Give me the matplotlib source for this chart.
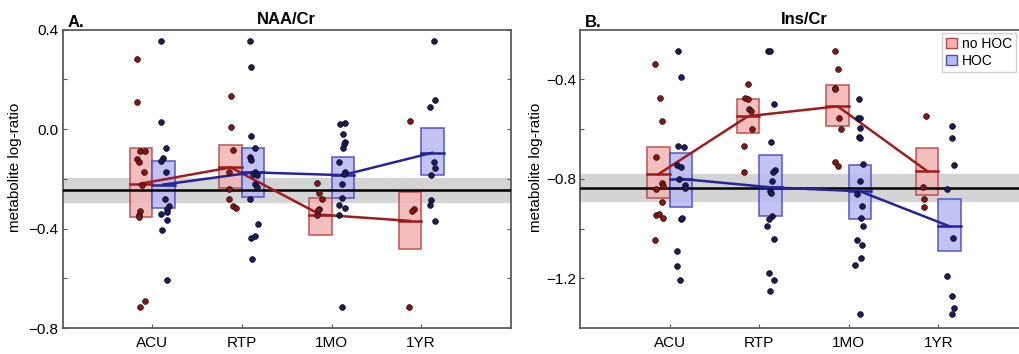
import numpy as np
import matplotlib
matplotlib.use('Agg')
from matplotlib import pyplot as plt
from matplotlib.patches import Rectangle, Patch

plt.rcParams['font.family'] = ['Liberation Sans', 'DejaVu Sans']

times = ['ACU', 'RTP', '1MO', '1YR']

"""NAA/Cr - group summaries (mean line, box low, box high)"""
naa_nohoc_mean = [-0.219, -0.154, -0.344, -0.369]
naa_nohoc_lo = [-0.354, -0.237, -0.425, -0.481]
naa_nohoc_hi = [-0.074, -0.063, -0.279, -0.254]
naa_hoc_mean = [-0.223, -0.174, -0.185, -0.095]
naa_hoc_lo = [-0.316, -0.273, -0.275, -0.186]
naa_hoc_hi = [-0.127, -0.074, -0.114, 0.003]
naa_ref = -0.245
naa_ref_band = [-0.295, -0.195]

"""Ins/Cr - group summaries"""
ins_nohoc_mean = [-0.781, -0.548, -0.508, -0.769]
ins_nohoc_lo = [-0.879, -0.615, -0.587, -0.866]
ins_nohoc_hi = [-0.671, -0.479, -0.421, -0.674]
ins_hoc_mean = [-0.800, -0.834, -0.850, -0.991]
ins_hoc_lo = [-0.914, -0.949, -0.960, -1.091]
ins_hoc_hi = [-0.694, -0.706, -0.745, -0.882]
ins_ref = -0.838
ins_ref_band = [-0.891, -0.780]

"""Individual subjects: values and jitter per time point"""
naa_nohoc_y = [
    [0.282, 0.109, -0.087, -0.087, -0.122, -0.134, -0.174, -0.225, -0.330, -0.344, -0.354, -0.692, -0.714],
    [0.134, 0.007, -0.083, -0.174, -0.242, -0.283, -0.309, -0.316],
    [-0.215, -0.257, -0.282, -0.320, -0.326, -0.344],
    [0.034, -0.320, -0.330, -0.714],
]
naa_nohoc_jit = [
    [-0.171, -0.171, -0.134, -0.086, -0.171, -0.153, -0.097, -0.115, -0.134, -0.153, -0.153, -0.086, -0.134],
    [-0.119, -0.119, -0.104, -0.141, -0.141, -0.141, -0.104, -0.067],
    [-0.167, -0.138, -0.104, -0.141, -0.156, -0.167],
    [-0.123, -0.078, -0.097, -0.130],
]
naa_hoc_y = [
    [0.353, 0.029, -0.074, -0.118, -0.127, -0.174, -0.283, -0.309, -0.320, -0.332, -0.340, -0.367, -0.406, -0.606],
    [0.353, 0.248, -0.026, -0.074, -0.111, -0.125, -0.174, -0.181, -0.185, -0.219, -0.232, -0.283, -0.380,
     -0.431, -0.438, -0.523],
    [0.021, 0.025, -0.018, -0.051, -0.061, -0.074, -0.131, -0.172, -0.181, -0.219, -0.279, -0.306, -0.316,
     -0.344, -0.714],
    [0.353, 0.118, 0.091, -0.131, -0.158, -0.185, -0.286, -0.306, -0.371],
]
naa_hoc_jit = [
    [0.097, 0.093, 0.153, 0.119, 0.097, 0.153, 0.141, 0.182, 0.167, 0.160, 0.097, 0.167, 0.108, 0.167],
    [0.089, 0.100, 0.100, 0.149, 0.086, 0.104, 0.149, 0.119, 0.164, 0.149, 0.167, 0.086, 0.175, 0.149, 0.104, 0.112],
    [0.097, 0.156, 0.130, 0.156, 0.138, 0.123, 0.086, 0.149, 0.141, 0.119, 0.112, 0.086, 0.156, 0.086, 0.119],
    [0.149, 0.160, 0.100, 0.145, 0.156, 0.112, 0.112, 0.100, 0.156],
]

ins_nohoc_y = [
    [-0.336, -0.476, -0.567, -0.713, -0.815, -0.828, -0.842, -0.892, -0.944, -0.940, -0.958, -1.044],
    [-0.419, -0.474, -0.477, -0.517, -0.528, -0.598, -0.667, -0.772],
    [-0.285, -0.359, -0.433, -0.437, -0.556, -0.598, -0.732, -0.749],
    [-0.547, -0.832, -0.883, -0.915],
]
ins_nohoc_jit = [
    [-0.167, -0.104, -0.086, -0.156, -0.086, -0.074, -0.156, -0.082, -0.156, -0.119, -0.071, -0.167],
    [-0.130, -0.160, -0.123, -0.112, -0.093, -0.082, -0.167, -0.167],
    [-0.160, -0.123, -0.149, -0.156, -0.112, -0.086, -0.149, -0.123],
    [-0.141, -0.167, -0.160, -0.160],
]
ins_hoc_y = [
    [-0.285, -0.390, -0.666, -0.671, -0.745, -0.751, -0.802, -0.826, -0.836, -0.960, -0.956, -1.091, -1.149, -1.205],
    [-0.285, -0.285, -0.498, -0.650, -0.765, -0.773, -0.808, -0.848, -0.855, -0.949, -0.963, -0.989, -1.040,
     -1.178, -1.205, -1.252],
    [-0.480, -0.557, -0.557, -0.594, -0.632, -0.636, -0.740, -0.810, -0.860, -0.910, -0.957, -0.988, -1.047,
     -1.067, -1.118, -1.145, -1.345],
    [-0.588, -0.636, -0.745, -0.842, -1.036, -1.192, -1.271, -1.318, -1.345],
]
ins_hoc_jit = [
    [0.097, 0.130, 0.093, 0.156, 0.086, 0.126, 0.104, 0.167, 0.167, 0.123, 0.138, 0.086, 0.082, 0.119],
    [0.100, 0.123, 0.164, 0.130, 0.175, 0.156, 0.138, 0.123, 0.126, 0.138, 0.108, 0.086, 0.164, 0.112, 0.164, 0.123],
    [0.108, 0.100, 0.130, 0.119, 0.112, 0.119, 0.156, 0.119, 0.093, 0.145, 0.138, 0.156, 0.093, 0.145, 0.138,
     0.071, 0.119],
    [0.149, 0.149, 0.171, 0.093, 0.160, 0.097, 0.149, 0.171, 0.149],
]

red_line = '#9e1c1c'
red_face = '#f2b3b3'
red_edge = '#b84646'
red_dot = '#8a1414'
blue_line = '#25259a'
blue_face = '#b9b9f2'
blue_edge = '#4a4ac4'
blue_dot = '#1a1a5c'
spine_col = '#5a5a5a'
box_w = 0.25


def draw_group(ax, mean, lo, hi, ys, jit, side, face, edge, line, dot):
    pos = np.arange(1, len(times) + 1)
    x0 = pos - box_w if side < 0 else pos
    for i in range(len(pos)):
        ax.add_patch(Rectangle((x0[i], lo[i]), box_w, hi[i] - lo[i], facecolor=face, edgecolor=edge,
                               lw=1.2, alpha=0.85, zorder=2))
        ax.plot([x0[i], x0[i] + box_w], [mean[i], mean[i]], color=line, lw=1.8, zorder=4)
        ax.plot(pos[i] + np.array(jit[i]), ys[i], 'o', ms=4.2, mfc=dot, mec='black', mew=0.4, zorder=5)
    ax.plot(x0 + box_w / 2, mean, color=line, lw=1.8, zorder=4)


def setup(ax, title, letter, ylim, yticks):
    ax.set_xlim(0, 5)
    ax.set_ylim(*ylim)
    ax.set_xticks(range(1, 5))
    ax.set_xticklabels(times, fontsize=11)
    ax.set_yticks(yticks)
    ax.set_yticklabels([f'{t:.1f}'.replace('-', '\u2212') if i % 2 == 0 else '' for i, t in enumerate(yticks)],
                       fontsize=11)
    ax.tick_params(axis='y', direction='in', left=True, right=True, length=3, color=spine_col, pad=3)
    ax.tick_params(axis='x', direction='in', bottom=True, top=False, length=3, color=spine_col, pad=6)
    for s in ax.spines.values():
        s.set_color(spine_col)
        s.set_linewidth(1.3)
    ax.set_title(title, fontsize=12, fontweight='bold', pad=4)
    ax.text(0.01, 1.0, letter, transform=ax.transAxes, fontsize=12, fontweight='bold', va='bottom', ha='left')
    ax.set_ylabel('metabolite log-ratio', fontsize=11)


fig = plt.figure(figsize=(10.19, 3.54), dpi=100)
ax1 = fig.add_axes([0.0615, 0.0734, 0.4397, 0.8427])
ax2 = fig.add_axes([0.5692, 0.0734, 0.4397, 0.8427])

"""Panel A"""
ax1.axhspan(naa_ref_band[0], naa_ref_band[1], color='#d4d4d4', zorder=1)
ax1.axhline(naa_ref, color='black', lw=1.8, zorder=3)
draw_group(ax1, naa_nohoc_mean, naa_nohoc_lo, naa_nohoc_hi, naa_nohoc_y, naa_nohoc_jit, -1,
           red_face, red_edge, red_line, red_dot)
draw_group(ax1, naa_hoc_mean, naa_hoc_lo, naa_hoc_hi, naa_hoc_y, naa_hoc_jit, 1,
           blue_face, blue_edge, blue_line, blue_dot)
setup(ax1, 'NAA/Cr', 'A.', (-0.8, 0.4), [0.4, 0.2, 0.0, -0.2, -0.4, -0.6, -0.8])
ax1.yaxis.set_label_coords(-0.091, 0.54)

"""Panel B"""
ax2.axhspan(ins_ref_band[0], ins_ref_band[1], color='#d4d4d4', zorder=1)
ax2.axhline(ins_ref, color='black', lw=1.8, zorder=3)
draw_group(ax2, ins_nohoc_mean, ins_nohoc_lo, ins_nohoc_hi, ins_nohoc_y, ins_nohoc_jit, -1,
           red_face, red_edge, red_line, red_dot)
draw_group(ax2, ins_hoc_mean, ins_hoc_lo, ins_hoc_hi, ins_hoc_y, ins_hoc_jit, 1,
           blue_face, blue_edge, blue_line, blue_dot)
setup(ax2, 'Ins/Cr', 'B.', (-1.4, -0.2), [-0.4, -0.6, -0.8, -1.0, -1.2])
ax2.yaxis.set_label_coords(-0.082, 0.54)

handles = [Patch(facecolor=red_face, edgecolor=red_edge, label='no HOC'),
           Patch(facecolor=blue_face, edgecolor=blue_edge, label='HOC')]
leg = ax2.legend(handles=handles, loc='upper left', bbox_to_anchor=(0.808, 0.989), borderaxespad=0,
                 fontsize=10, handlelength=0.75, handleheight=0.75, handletextpad=0.4, labelspacing=0.2,
                 borderpad=0.3, fancybox=False, framealpha=1)
leg.get_frame().set_edgecolor('#d0d0d0')

fig.savefig('out.png', dpi=100)
